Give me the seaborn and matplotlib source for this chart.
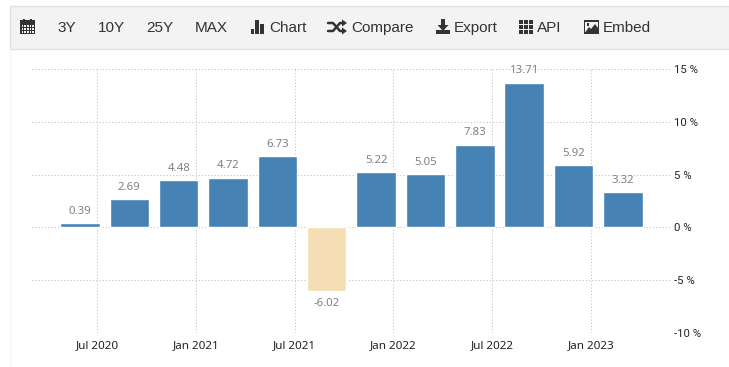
import matplotlib
matplotlib.use("Agg")
import matplotlib.pyplot as plt
from matplotlib.patches import Rectangle, Polygon
import pandas as pd
import seaborn as sns

quarters = ["2020Q2", "2020Q3", "2020Q4", "2021Q1", "2021Q2", "2021Q3",
            "2021Q4", "2022Q1", "2022Q2", "2022Q3", "2022Q4", "2023Q1"]
values = [0.39, 2.69, 4.48, 4.72, 6.73, -6.02, 5.22, 5.05, 7.83, 13.71, 5.92, 3.32]
x_tick_labels = ["Jul 2020", "Jan 2021", "Jul 2021", "Jan 2022", "Jul 2022", "Jan 2023"]
y_ticks = [-10, -5, 0, 5, 10, 15]
menu_labels = ["3Y", "10Y", "25Y", "MAX", "Chart", "Compare", "Export", "API", "Embed"]

W, H = 729, 367
BLUE, SAND = "#4682b4", "#f5deb3"
GRID, INK = "#bdbdbd", "#333333"

sns.set_theme(style="white")
plt.rcParams["font.family"] = ["Liberation Sans", "DejaVu Sans"]
fig = plt.figure(figsize=(W / 100, H / 100), dpi=100, facecolor="white")

# page furniture, in pixel coordinates
ui = fig.add_axes([0, 0, 1, 1], zorder=0)
ui.set_xlim(0, W); ui.set_ylim(H, 0); ui.axis("off")
ui.add_patch(Rectangle((10, 6), W, 43, fc="#f3f3f3", ec="#e0e0e0", lw=1))
ui.plot([10, 10], [49, H], color="#f6f6f6", lw=1)

menu_x = [57.5, 98, 146, 195, 269, 351, 454, 537, 603]
for lab, mx in zip(menu_labels, menu_x):
    ui.text(mx, 28, lab, fontsize=11, color=INK, va="center", ha="left")

def box(x, y, w, h, c=INK):
    ui.add_patch(Rectangle((x, y), w, h, fc=c, ec="none"))

# calendar
box(20.5, 20, 14.5, 14); box(23, 18.5, 2, 3); box(30.5, 18.5, 2, 3)
for r in range(3):
    for c in range(5):
        box(21.8 + c * 2.6, 25.2 + r * 2.8, 1.7, 1.8, "#f3f3f3")
# bars
box(251, 29, 3.5, 5); box(255.5, 20, 3.5, 14); box(260, 24, 4.5, 10)
# shuffle
ui.plot([328, 333, 340, 344], [23, 23, 31, 31], color=INK, lw=1.8)
ui.plot([328, 333, 340, 344], [31, 31, 23, 23], color=INK, lw=1.8)
ui.add_patch(Polygon([[342, 19.5], [347, 23], [342, 26.5]], fc=INK, ec="none"))
ui.add_patch(Polygon([[342, 27.5], [347, 31], [342, 34.5]], fc=INK, ec="none"))
# export
box(441, 19, 4, 7)
ui.add_patch(Polygon([[437.5, 25], [448.5, 25], [443, 31]], fc=INK, ec="none"))
box(436, 30, 14, 4)
# api grid
for r in range(3):
    for c in range(3):
        box(519.5 + c * 4.9, 20 + r * 4.9, 4, 4)
# embed picture
box(584, 20, 15.5, 13.5)
box(585.5, 21.5, 12.5, 10.5, "#f3f3f3")
ui.add_patch(Polygon([[585.5, 32], [589, 27], [591, 29], [595, 24], [598, 28], [598, 32]], fc=INK, ec="none"))
box(587, 23, 2.5, 2.5)

# chart
L, R, T, B = 32, 671, 69, 333
ax = fig.add_axes([L / W, (H - B) / H, (R - L) / W, (B - T) / H], zorder=1)
ax.patch.set_alpha(0)
df = pd.DataFrame({"quarter": quarters, "value": values})
df["sign"] = ["pos" if v >= 0 else "neg" for v in values]
sns.barplot(data=df, x="quarter", y="value", hue="sign",
            palette={"pos": BLUE, "neg": SAND}, dodge=False, width=0.8,
            legend=False, saturation=1, ax=ax, zorder=3)

step, first = 49.35, 80.0
ax.set_xlim((L - first) / step, (R - first) / step)
ax.set_ylim(-10, 15)
ax.set_xlabel(""); ax.set_ylabel("")
for s in ax.spines.values():
    s.set_visible(False)

ax.set_xticks([0.35 + 2 * i for i in range(len(x_tick_labels))], x_tick_labels)
ax.set_yticks(y_ticks, [f"{t} %" for t in y_ticks])
ax.yaxis.tick_right()
ax.tick_params(axis="x", length=2.5, width=0.72, color=GRID, pad=2.6, labelsize=8.4, labelcolor="#222222")
ax.tick_params(axis="y", length=0, pad=2.5, labelsize=8.2, labelcolor="#222222")
for lab in ax.get_xticklabels():
    lab.set_family(["Noto Sans", "DejaVu Sans"])
for lab in ax.get_yticklabels():
    lab.set_family(["Roboto", "DejaVu Sans"])
ax.grid(True, color=GRID, lw=0.72, ls=(0, (1, 2.2)), zorder=0)
ax.set_axisbelow(True)

for i, v in enumerate(values):
    ax.annotate(f"{v:.2f}", xy=(i, v), xytext=(0, 8.5 if v >= 0 else -9),
                textcoords="offset points", ha="center", va="center",
                fontsize=8.2, color="#7f7f86", family=["Noto Sans", "DejaVu Sans"],
                annotation_clip=False, zorder=5)

fig.savefig("out.png", dpi=100)
